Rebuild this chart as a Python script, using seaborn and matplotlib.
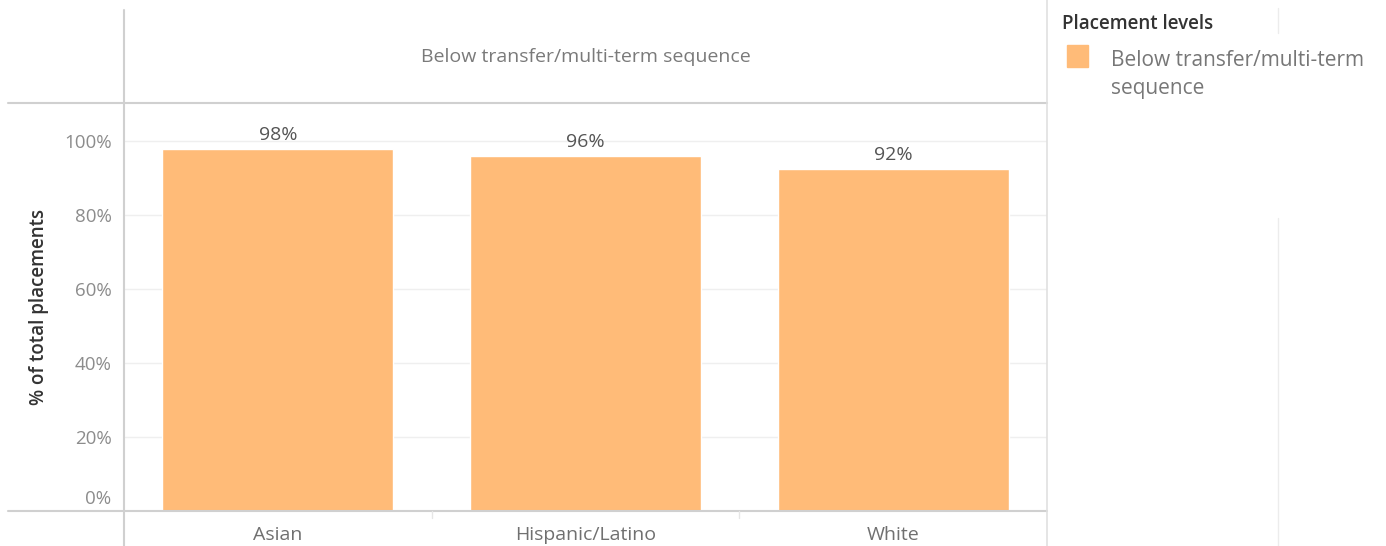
import matplotlib
matplotlib.use("Agg")
import matplotlib.pyplot as plt
import matplotlib.transforms as mtrans
from matplotlib.lines import Line2D
from matplotlib.patches import Rectangle
import seaborn as sns
import pandas as pd

categories = ["Asian", "Hispanic/Latino", "White"]
values = [97.8, 95.9, 92.4]
value_labels = ["98%", "96%", "92%"]
yticks = [0, 20, 40, 60, 80, 100]
ytick_labels = ["0%", "20%", "40%", "60%", "80%", "100%"]
panel_title = "Below transfer/multi-term sequence"
legend_title = "Placement levels"
legend_label = "Below transfer/multi-term\nsequence"
y_label = "% of total placements"
bar_color = "#FFBB78"

sns.set_theme(style="white")
plt.rcParams["font.family"] = ["Open Sans", "DejaVu Sans"]

W, H = 1386, 546
fig = plt.figure(figsize=(W / 100, H / 100), dpi=100)

def fx(px):
    return px / W

def fy(py):
    return 1 - py / H

ax_left, ax_right, ax_top, ax_bot = 124, 1047, 103, 511
ax = fig.add_axes([fx(ax_left), fy(ax_bot), fx(ax_right - ax_left), (ax_bot - ax_top) / H])

df = pd.DataFrame({"group": categories, "pct": values})
sns.barplot(data=df, x="group", y="pct", color=bar_color, saturation=1,
            width=0.75, ax=ax, order=categories)

ax.set_ylim(0, 110.3)
ax.set_xlim(-0.5, len(categories) - 0.5)
ax.set_yticks(yticks)
ax.set_yticklabels(ytick_labels)
ax.yaxis.grid(True, color="#efefef", linewidth=1)
ax.set_axisbelow(True)
for s in ax.spines.values():
    s.set_visible(False)
ax.tick_params(axis="both", length=0)
ax.tick_params(axis="y", pad=9, labelsize=13.5, labelcolor="#8c8c8c")
ax.tick_params(axis="x", pad=11, labelsize=14, labelcolor="#707070")
ax.set_xlabel("")
ax.set_ylabel(y_label, fontsize=13.5, color="#333333", fontweight="semibold", labelpad=11)

# shift the 0% label upward like Tableau does
lbl0 = ax.get_yticklabels()[0]
lbl0.set_transform(lbl0.get_transform() + mtrans.ScaledTranslation(0, 14 / 100, fig.dpi_scale_trans))

for p, txt in zip(ax.patches, value_labels):
    ax.annotate(txt, (p.get_x() + p.get_width() / 2, p.get_height()),
                xytext=(0, 3.5), textcoords="offset points", ha="center", va="bottom",
                fontsize=14, color="#555555")

# header panel
fig.text(fx((ax_left + ax_right) / 2), fy(57), panel_title, ha="center", va="center",
         fontsize=14, color="#7a7a7a")

line_c = "#d0d0d0"
fig.add_artist(Line2D([fx(8), fx(ax_right)], [fy(ax_top), fy(ax_top)], color=line_c, lw=1.5))
fig.add_artist(Line2D([fx(8), fx(ax_right)], [fy(ax_bot), fy(ax_bot)], color=line_c, lw=1.5))
fig.add_artist(Line2D([fx(ax_left), fx(ax_left)], [fy(10), fy(546)], color=line_c, lw=1.5))
fig.add_artist(Line2D([fx(ax_right), fx(ax_right)], [fy(0), fy(546)], color="#e0e0e0", lw=1.2))
fig.add_artist(Line2D([fx(1278), fx(1278)], [fy(8), fy(33)], color="#ececec", lw=1))
fig.add_artist(Line2D([fx(1278), fx(1278)], [fy(218), fy(546)], color="#ececec", lw=1))
# category separators below baseline
for i in range(1, len(categories)):
    xs = ax_left + (ax_right - ax_left) * i / len(categories)
    fig.add_artist(Line2D([fx(xs), fx(xs)], [fy(511), fy(518)], color="#e6e6e6", lw=1))

# legend
fig.text(fx(1062), fy(24), legend_title, ha="left", va="center", fontsize=13.5,
         color="#333333", fontweight="semibold")
fig.add_artist(Rectangle((fx(1067), fy(67)), fx(21), 22 / H, color=bar_color,
                         transform=fig.transFigure))
fig.text(fx(1111), fy(74.5), legend_label, ha="left", va="center", fontsize=15,
         color="#777777", linespacing=1.45, transform=fig.transFigure)

fig.savefig("out.png", dpi=100)
